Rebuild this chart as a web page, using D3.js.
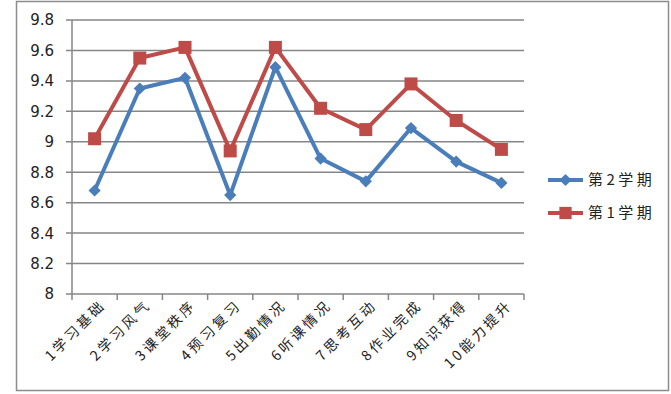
<!DOCTYPE html>
<html>
<head>
<meta charset="utf-8" />
<script src="https://d3js.org/d3.v7.min.js"></script>
<style>
  body { margin: 0; background: #fff; }
  text { font-family: "DejaVu Sans", sans-serif; fill: #222; }
  .cjk { font-family: "Noto Sans CJK SC", sans-serif; }
</style>
</head>
<body>
<div id="chart"></div>
<script>
// data
const categories = ["1学习基础", "2学习风气", "3课堂秩序", "4预习复习", "5出勤情况",
                    "6听课情况", "7思考互动", "8作业完成", "9知识获得", "10能力提升"];
const term2 = [8.68, 9.35, 9.42, 8.65, 9.49, 8.89, 8.74, 9.09, 8.87, 8.73];
const term1 = [9.02, 9.55, 9.62, 8.94, 9.62, 9.22, 9.08, 9.38, 9.14, 8.95];
const yTicks = [8, 8.2, 8.4, 8.6, 8.8, 9, 9.2, 9.4, 9.6, 9.8];

const width = 671, height = 394;
const blue = "#4a7ebb", red = "#be4b48";

const svg = d3.select("#chart").append("svg")
    .attr("width", width)
    .attr("height", height);

// chart border
svg.append("rect")
    .attr("x", 16.5).attr("y", 1.5)
    .attr("width", 652).attr("height", 389)
    .attr("fill", "#fff")
    .attr("stroke", "#8c8c8c")
    .attr("stroke-width", 1.5);

const x = d3.scaleBand().domain(categories).range([72, 524]);
const y = d3.scaleLinear().domain([8, 9.8]).range([294, 20]);

// gridlines
svg.append("g")
    .selectAll("line")
    .data(yTicks)
    .enter().append("line")
    .attr("x1", 66).attr("x2", 524)
    .attr("y1", d => y(d)).attr("y2", d => y(d))
    .attr("stroke", "#868686")
    .attr("stroke-width", 1.5);

// y axis
svg.append("line")
    .attr("x1", 72).attr("x2", 72)
    .attr("y1", 20).attr("y2", 294)
    .attr("stroke", "#868686").attr("stroke-width", 1.5);

svg.append("g")
    .selectAll("text")
    .data(yTicks)
    .enter().append("text")
    .attr("x", 54)
    .attr("y", d => y(d))
    .attr("dy", "0.36em")
    .attr("text-anchor", "end")
    .attr("font-size", 15)
    .text(d => d3.format("~g")(d));

// x axis ticks
const xEdges = categories.map(c => x(c)).concat([x.range()[1]]);
svg.append("g")
    .selectAll("line")
    .data(xEdges)
    .enter().append("line")
    .attr("x1", d => d).attr("x2", d => d)
    .attr("y1", 294).attr("y2", 300)
    .attr("stroke", "#868686").attr("stroke-width", 1.5);

svg.append("g")
    .selectAll("text")
    .data(categories)
    .enter().append("text")
    .attr("class", "cjk")
    .attr("text-anchor", "end")
    .attr("font-size", 14)
    .attr("letter-spacing", 3)
    .attr("transform", d => `translate(${x(d) + x.bandwidth() / 2 + 12},${306}) rotate(-45)`)
    .text(d => d);

const cx = (d, i) => x(categories[i]) + x.bandwidth() / 2;

const line = d3.line()
    .x((d, i) => cx(d, i))
    .y(d => y(d));

// 第1学期 (red, squares)
svg.append("path")
    .datum(term1)
    .attr("d", line)
    .attr("fill", "none")
    .attr("stroke", red)
    .attr("stroke-width", 4)
    .attr("stroke-linejoin", "round");

svg.append("g")
    .selectAll("rect")
    .data(term1)
    .enter().append("rect")
    .attr("x", (d, i) => cx(d, i) - 6.5)
    .attr("y", d => y(d) - 6.5)
    .attr("width", 13).attr("height", 13)
    .attr("fill", red);

// 第2学期 (blue, diamonds)
svg.append("path")
    .datum(term2)
    .attr("d", line)
    .attr("fill", "none")
    .attr("stroke", blue)
    .attr("stroke-width", 4)
    .attr("stroke-linejoin", "round");

const diamond = d3.symbol().type(d3.symbolDiamond2).size(95);
svg.append("g")
    .selectAll("path")
    .data(term2)
    .enter().append("path")
    .attr("d", diamond)
    .attr("transform", (d, i) => `translate(${cx(d, i)},${y(d)})`)
    .attr("fill", blue);

// legend
const legend = [
    { name: "第2学期", color: blue, shape: "diamond", y: 180 },
    { name: "第1学期", color: red, shape: "square", y: 213 }
];
const lg = svg.append("g").selectAll("g")
    .data(legend)
    .enter().append("g");

lg.append("line")
    .attr("x1", 548).attr("x2", 583)
    .attr("y1", d => d.y).attr("y2", d => d.y)
    .attr("stroke", d => d.color)
    .attr("stroke-width", 4);

lg.append("path")
    .attr("d", d => d.shape === "diamond"
        ? d3.symbol().type(d3.symbolDiamond2).size(95)()
        : d3.symbol().type(d3.symbolSquare).size(150)())
    .attr("transform", d => `translate(565.5,${d.y})`)
    .attr("fill", d => d.color);

lg.append("text")
    .attr("class", "cjk")
    .attr("x", 588)
    .attr("y", d => d.y)
    .attr("dy", "0.36em")
    .attr("font-size", 15)
    .attr("letter-spacing", 3.5)
    .text(d => d.name);
</script>
</body>
</html>
